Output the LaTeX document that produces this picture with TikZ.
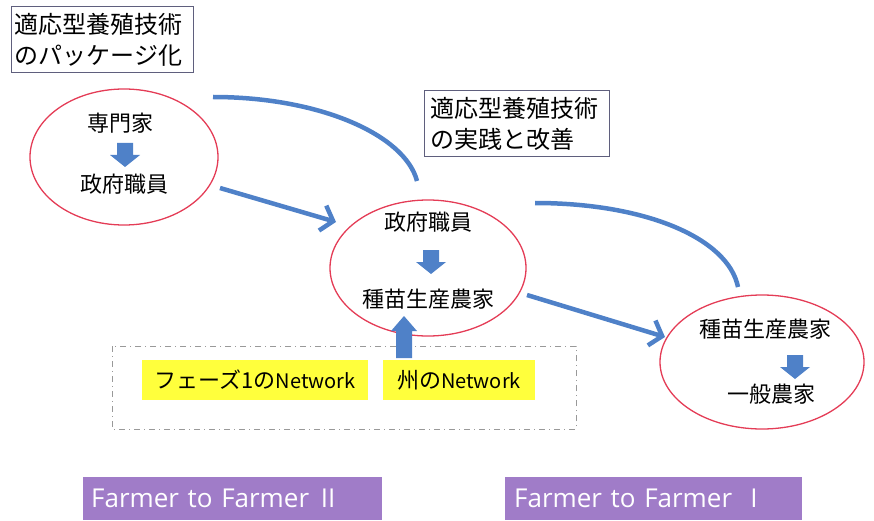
\documentclass[tikz,border=0pt]{standalone}
\usepackage{fontspec}
\newfontfamily\jp{Noto Sans CJK JP}
\newfontfamily\ftf{Open Sans}
\usetikzlibrary{arrows.meta,shapes.geometric}
\definecolor{arrblue}{RGB}{79,129,200}
\definecolor{ellred}{RGB}{228,60,86}
\definecolor{boxline}{RGB}{95,95,125}
\definecolor{hlyellow}{RGB}{255,255,60}
\definecolor{purp}{RGB}{160,124,200}
\tikzset{
  ell/.style={draw=ellred, line width=1.3pt, ellipse, inner sep=0pt},
  jtext/.style={font=\jp\fontsize{22}{24}\selectfont, inner sep=0pt, anchor=center},
  tbox/.style={draw=boxline, line width=1.4pt, font=\jp\fontsize{24}{31}\selectfont, align=left, inner sep=0pt, anchor=north west, text width=#1, minimum height=66pt},
  conn/.style={draw=arrblue, line width=4.5pt},
  conarr/.style={conn, -{Straight Barb[length=11pt, width=26pt, line width=4.5pt]}},
  hl/.style={fill=hlyellow, font=\jp\fontsize{22}{24}\selectfont, inner sep=0pt, minimum height=40pt},
  pbox/.style={fill=purp, text=white, font=\ftf\fontsize{26}{28}\selectfont, inner sep=0pt, minimum height=43pt, anchor=north west, text width=#1},
  dashbox/.style={draw=gray!80, line width=1pt, dash pattern=on 6pt off 4pt on 1pt off 4pt},
  downarr/.pic={\fill[arrblue] (-8,-12)--(8,-12)--(8,0)--(15,0)--(0,12)--(-15,0)--(-8,0)--cycle;},
}
\begin{document}
\begin{tikzpicture}[x=1pt,y=-1pt]
\useasboundingbox (0,0) rectangle (874,521);
% text boxes
\node[tbox=182pt] (b1) at (11,6) {\hspace*{3pt}適応型養殖技術\\\hspace*{3pt}のパッケージ化};
\node[tbox=185pt] (b2) at (424,90) {\hspace*{6pt}適応型養殖技術\\\hspace*{6pt}の実践と改善};
% ellipses
\node[ell, minimum width=188pt, minimum height=136pt] (e1) at (124,157) {};
\node[ell, minimum width=196pt, minimum height=136pt] (e2) at (428,268) {};
\node[ell, minimum width=204pt, minimum height=134pt] (e3) at (762,362) {};
% texts in ellipses
\node[jtext] (t11) at (120,123) {専門家};
\pic at (125,155) {downarr};
\node[jtext] (t12) at (124,184) {政府職員};
\node[jtext] (t21) at (428,222) {政府職員};
\pic at (431,262) {downarr};
\node[jtext] (t22) at (428,299) {種苗生産農家};
\node[jtext] (t31) at (765,329) {種苗生産農家};
\pic at (795,367) {downarr};
\node[jtext] (t32) at (771,394) {一般農家};
% curves
\coordinate (c1s) at (213,97);
\coordinate (c1e) at (417,181);
\coordinate (c2s) at (535,203);
\coordinate (c2e) at (738,287);
\draw[conn] (c1s) .. controls (320,97) and (405,135) .. (c1e);
\draw[conn] (c2s) .. controls (645,203) and (728,238) .. (c2e);
% straight arrows
\coordinate (a1s) at (220,188);
\coordinate (a1e) at (336,222);
\coordinate (a2s) at (527,295);
\coordinate (a2e) at (665,337);
\draw[conarr] (a1s) -- (a1e);
\draw[conarr] (a2s) -- (a2e);
% dashed box
\draw[dashbox] (112,346) rectangle (576,429);
% yellow labels
\node[hl, minimum width=226pt] (y1) at (255,380) {フェーズ1の{\fontsize{20}{22}\selectfont Network}};
\node[hl, minimum width=152pt] (y2) at (459,380) {州の{\fontsize{20}{22}\selectfont Network}};
% up block arrow
\fill[arrblue] (396,358)--(412,358)--(412,331)--(417,331)--(404,316)--(391,331)--(396,331)--cycle;
% purple boxes
\node[pbox=299pt] (p1) at (83,477) {\hspace*{8pt}Farmer to Farmer\hspace{0.45em}II};
\node[pbox=297pt] (p2) at (505,477) {\hspace*{9pt}Farmer to Farmer\hspace{0.7em}I};
\end{tikzpicture}
\end{document}
